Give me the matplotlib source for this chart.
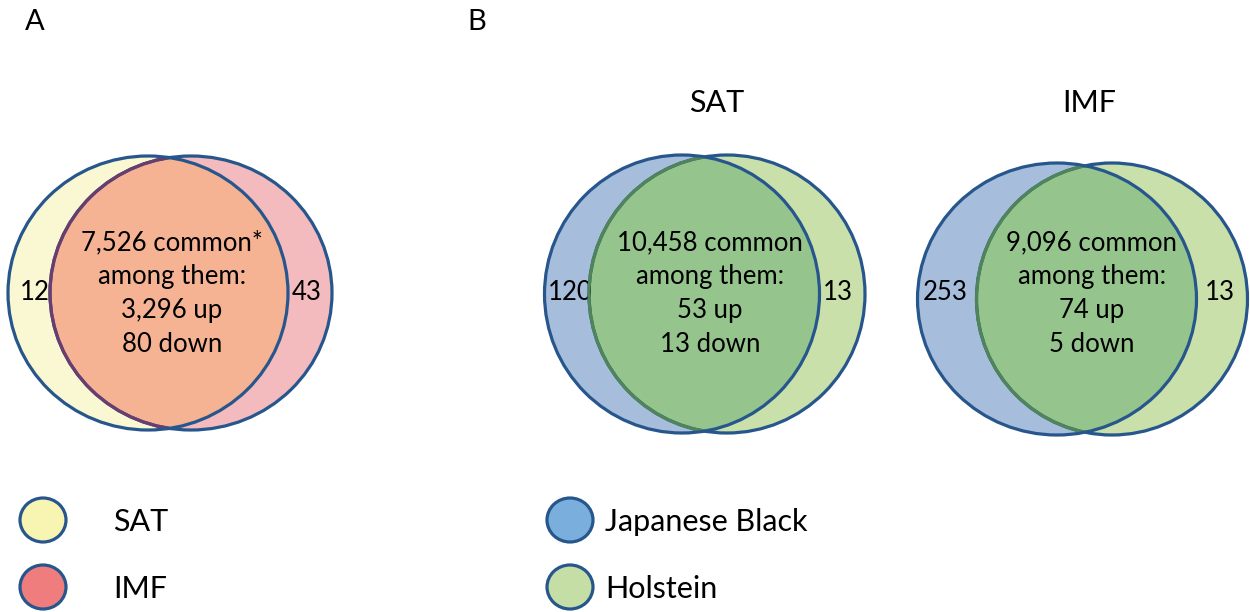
import matplotlib
matplotlib.use('Agg')
import matplotlib.pyplot as plt
from matplotlib.patches import Ellipse

plt.rcParams['font.family'] = ['Lato', 'DejaVu Sans']

# panel A: SAT vs IMF
a_sets = ['SAT', 'IMF']
a_only = [12, 43]
a_common = 7526
a_up = 3296
a_down = 80

# panel B: Japanese Black vs Holstein, per tissue
b_breeds = ['Japanese Black', 'Holstein']
b_tissues = ['SAT', 'IMF']
b_only_jb = [120, 253]
b_only_hol = [13, 13]
b_common = [10458, 9096]
b_up = [53, 74]
b_down = [13, 5]

EDGE = '#27568C'
TXT = 18.5


def venn2(ax, c1, c2, w1, w2, h, col1, col2, col_mid, inner_edge):
    (x1, y), (x2, _) = c1, c2
    left = Ellipse((x1, y), w1, h, facecolor=col1, edgecolor='none', zorder=1)
    right = Ellipse((x2, y), w2, h, facecolor=col2, edgecolor='none', zorder=1)
    ax.add_patch(left)
    ax.add_patch(right)
    # overlap = right circle clipped to the left one
    clip = Ellipse((x1, y), w1, h, transform=ax.transData)
    mid = Ellipse((x2, y), w2, h, facecolor=col_mid, edgecolor='none', zorder=2)
    ax.add_patch(mid)
    mid.set_clip_path(clip)
    ax.add_patch(Ellipse((x1, y), w1, h, facecolor='none', edgecolor=EDGE, lw=2.3, zorder=3))
    ax.add_patch(Ellipse((x2, y), w2, h, facecolor='none', edgecolor=EDGE, lw=2.3, zorder=3))
    inner = Ellipse((x2, y), w2, h, facecolor='none', edgecolor=inner_edge, lw=2.3, zorder=4)
    ax.add_patch(inner)
    inner.set_clip_path(Ellipse((x1, y), w1 - 3, h - 3, transform=ax.transData))


def centre_text(ax, x, common, up, down, star=''):
    lines = [f'{common:,} common{star}', 'among them:', f'{up:,} up', f'{down:,} down']
    for i, s in enumerate(lines):
        ax.text(x, 243 + i * 33.7, s, ha='center', va='center', fontsize=TXT)


fig = plt.figure(figsize=(12.5, 6.12), dpi=100)
ax = fig.add_axes([0, 0, 1, 1])
ax.set_xlim(0, 1250)
ax.set_ylim(612, 0)
ax.axis('off')

ax.text(25, 22, 'A', fontsize=21, va='center')
ax.text(467, 22, 'B', fontsize=21, va='center')

# A
venn2(ax, (148, 293), (191, 293), 280, 282, 274,
      '#FAF8D3', '#F4BBBF', '#F5B394', '#6B3D6E')
ax.text(35, 293, str(a_only[0]), ha='center', va='center', fontsize=TXT)
ax.text(307, 293, str(a_only[1]), ha='center', va='center', fontsize=TXT)
centre_text(ax, 172, a_common, a_up, a_down, star='*')

# B
b_geo = [((682, 294), (727, 294), 275, 276, 278, 717, 570, 838, 710),
         ((1057, 299), (1112, 299), 279, 271, 272, 1089, 945, 1220, 1092)]
for i, (c1, c2, w1, w2, h, tx, lx, rx, cx) in enumerate(b_geo):
    venn2(ax, c1, c2, w1, w2, h, '#A6BDDC', '#C9E0AB', '#95C48D', '#4F8558')
    ax.text(tx, 103, b_tissues[i], ha='center', va='center', fontsize=22)
    ax.text(lx, 293, str(b_only_jb[i]), ha='center', va='center', fontsize=TXT)
    ax.text(rx, 293, str(b_only_hol[i]), ha='center', va='center', fontsize=TXT)
    centre_text(ax, cx, b_common[i], b_up[i], b_down[i])

# legends
leg_a_cols = ['#F8F5B2', '#F07D7E']
leg_b_cols = ['#7AAFDD', '#C5DEA6']
for i in range(2):
    y = 520 + i * 67
    ax.add_patch(Ellipse((43, y), 46, 44, facecolor=leg_a_cols[i], edgecolor=EDGE, lw=2.3))
    ax.text(113, y + 2, a_sets[i], va='center', fontsize=22)
    ax.add_patch(Ellipse((570, y), 46, 44, facecolor=leg_b_cols[i], edgecolor=EDGE, lw=2.3))
    ax.text(605, y + 2, b_breeds[i], va='center', fontsize=22)

fig.savefig('out.png', dpi=100)
